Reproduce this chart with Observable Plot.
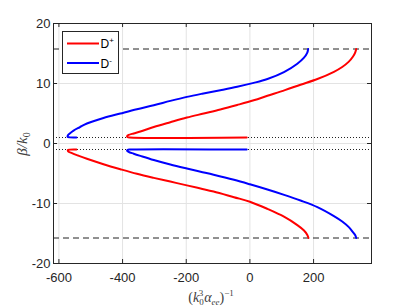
<!DOCTYPE html>
<html><head><meta charset="utf-8">
<script src="https://cdn.jsdelivr.net/npm/d3@7"></script>
<script src="https://cdn.jsdelivr.net/npm/@observablehq/plot@0.6"></script>
<style>html,body{margin:0;padding:0;background:#fff}#chart svg{display:block}</style>
</head><body><div id="chart"></div>
<script>
// ---- data ----
const xTicks = [-600, -400, -200, 0, 200];
const yTicks = [-20, -10, 0, 10, 20];
const xDomain = [-617, 382];
const yDomain = [-20, 20];
const seriesNames = ["D+", "D-"];
const seriesColors = ["#ff0000", "#0000ff"];
const cutoffLines = [15.75, -15.75];   // dashed
const lightLines = [1.0, -1.0];        // dotted

// D+ (red), upper branch: horizontal part near beta/k0 = 1, tip, then rising curve
const dPlusUpper = [[-10, 1.0], [-378, 1.0], [-384, 1.07], [-386, 1.2], [-381, 1.42], [-365, 1.68], [-344, 2.0],
  [-302, 2.75], [-250, 3.55], [-198, 4.32], [-145, 5.0], [-93, 5.67], [-40, 6.42], [12, 7.2], [55, 7.95],
  [110, 8.9], [159, 9.8], [212, 10.75], [264, 11.95], [290, 12.75], [310, 13.6], [324, 14.5], [331, 15.2], [334, 15.75]];
// D+ (red), lower branch
const dPlusLower = [[-545, -1.0], [-566, -1.02], [-572, -1.1], [-571, -1.3], [-559, -1.6], [-540, -2.0],
  [-512, -2.55], [-460, -3.45], [-407, -4.28], [-355, -5.05], [-302, -5.73], [-250, -6.35], [-198, -6.98],
  [-155, -7.5], [-114, -8.0], [-50, -8.95], [0, -9.7], [55, -10.9], [107, -12.2], [149, -13.6], [170, -14.5],
  [180, -15.2], [184, -15.75]];
// D- (blue), upper branch
const dMinusUpper = [[-545, 1.0], [-566, 1.02], [-573, 1.12], [-572, 1.35], [-565, 1.7], [-554, 2.15],
  [-535, 2.7], [-512, 3.33], [-460, 4.25], [-407, 5.0], [-355, 5.72], [-302, 6.38], [-250, 7.1], [-198, 7.77],
  [-150, 8.3], [-93, 8.88], [-40, 9.45], [12, 10.1], [55, 10.75], [107, 11.9], [149, 13.3], [170, 14.3],
  [180, 15.1], [183, 15.75]];
// D- (blue), lower branch
const dMinusLower = [[-10, -1.0], [-378, -1.0], [-384, -1.05], [-386, -1.15], [-381, -1.4], [-365, -1.7],
  [-344, -2.06], [-302, -2.75], [-250, -3.5], [-198, -4.17], [-155, -4.7], [-114, -5.2], [-50, -6.05], [0, -6.8],
  [55, -7.67], [110, -8.6], [159, -9.5], [212, -10.6], [264, -12.1], [290, -13.0], [310, -13.9], [324, -14.8],
  [331, -15.3], [334, -15.75]];

const branches = [
  {series: "D+", pts: dPlusUpper},
  {series: "D+", pts: dPlusLower},
  {series: "D-", pts: dMinusUpper},
  {series: "D-", pts: dMinusLower}
];
const curveData = branches.flatMap((b, i) => b.pts.map(([x, y]) => ({branch: i, series: b.series, x, y})));

// ---- chart ----
const axisColor = "#262626";
const chart = Plot.plot({
  width: 409, height: 307,
  marginLeft: 53, marginRight: 38, marginTop: 23, marginBottom: 44,
  x: {domain: xDomain},
  y: {domain: yDomain},
  color: {domain: seriesNames, range: seriesColors},
  style: {fontFamily: "'Liberation Sans', Arial, Helvetica, sans-serif", fontSize: "13px", color: axisColor, background: "#fff"},
  marks: [
    Plot.gridX(xTicks, {stroke: "#e3e3e3", strokeOpacity: 1}),
    Plot.gridY(yTicks, {stroke: "#e3e3e3", strokeOpacity: 1}),
    Plot.ruleY(lightLines, {stroke: "#222", strokeDasharray: "1,2"}),
    Plot.ruleY(cutoffLines, {stroke: "#222", strokeDasharray: "6,4"}),
    Plot.line(curveData, {x: "x", y: "y", z: "branch", stroke: "series", strokeWidth: 2, curve: "catmull-rom"}),
    Plot.frame({stroke: axisColor}),
    // inward tick marks on all four sides
    Plot.ruleX(xTicks, {x: d => d, y1: yDomain[0], y2: yDomain[0], insetTop: -4, stroke: axisColor}),
    Plot.ruleX(xTicks, {x: d => d, y1: yDomain[1], y2: yDomain[1], insetBottom: -4, stroke: axisColor}),
    Plot.ruleY(yTicks, {y: d => d, x1: xDomain[0], x2: xDomain[0], insetRight: -4, stroke: axisColor}),
    Plot.ruleY(yTicks, {y: d => d, x1: xDomain[1], x2: xDomain[1], insetLeft: -4, stroke: axisColor}),
    Plot.axisX(xTicks, {tickSize: 0, tickPadding: 9, label: null, tickFormat: d => String(d).replace("−", "-")}),
    Plot.axisY(yTicks, {tickSize: 0, tickPadding: 3, label: null, tickFormat: d => String(d).replace("−", "-")})
  ]
});
document.getElementById("chart").appendChild(chart);

// ---- axis labels (math-style) and legend ----
const svg = d3.select(chart);
const serif = "'Liberation Serif', 'DejaVu Serif', serif";
const labelColor = "#404040";

// x label: (k0^3 α_ee)^-1
const xl = svg.append("text").attr("x", 211).attr("y", 302).attr("text-anchor", "middle")
  .attr("font-family", serif).attr("font-size", 14).attr("fill", labelColor);
xl.append("tspan").text("(");
xl.append("tspan").attr("font-style", "italic").text("k");
xl.append("tspan").attr("font-size", 9).attr("dy", 3).text("0");
xl.append("tspan").attr("font-size", 9).attr("dx", -5).attr("dy", -9).text("3");
xl.append("tspan").attr("font-style", "italic").attr("dx", 1).attr("dy", 6).text("α");
xl.append("tspan").attr("font-style", "italic").attr("font-size", 9).attr("dy", 3).text("ee");
xl.append("tspan").attr("dy", -3).text(")");
xl.append("tspan").attr("font-size", 9).attr("dy", -6).text("−1");

// y label: β/k0
const yl = svg.append("text").attr("transform", "translate(27,144) rotate(-90)").attr("text-anchor", "middle")
  .attr("font-family", serif).attr("font-size", 15).attr("fill", labelColor);
yl.append("tspan").attr("font-style", "italic").text("β/k");
yl.append("tspan").attr("font-size", 10).attr("dy", 3).text("0");

// legend
const lg = svg.append("g").attr("text-anchor", "start");
lg.append("rect").attr("x", 62.5).attr("y", 31.5).attr("width", 56).attr("height", 42)
  .attr("fill", "#fff").attr("stroke", axisColor).attr("stroke-width", 1);
seriesNames.forEach((name, i) => {
  const y = 43.5 + i * 19.5;
  lg.append("line").attr("x1", 67).attr("x2", 99).attr("y1", y).attr("y2", y)
    .attr("stroke", seriesColors[i]).attr("stroke-width", 2);
  const t = lg.append("text").attr("x", 100.5).attr("y", y + 4.5).attr("text-anchor", "start")
    .attr("font-family", "'Liberation Sans', Arial, sans-serif").attr("font-size", 12).attr("fill", "#000");
  t.append("tspan").text(name[0]);
  t.append("tspan").attr("font-size", 8).attr("dy", -5).text(name.slice(1));
});
</script>
</body></html>
